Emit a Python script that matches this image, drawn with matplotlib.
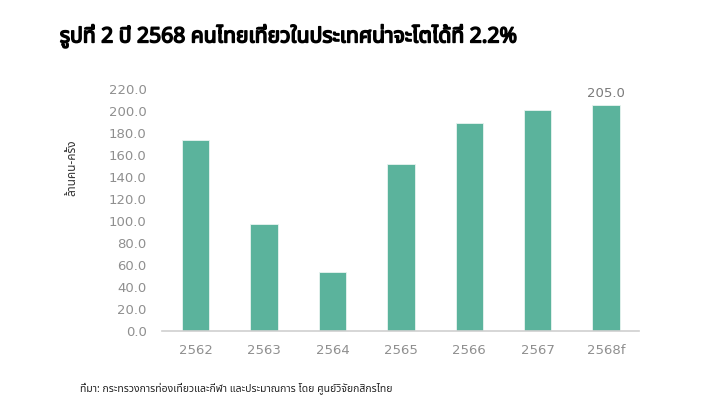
import matplotlib
matplotlib.use('Agg')
from matplotlib import pyplot as plt
from matplotlib import font_manager
from matplotlib import patheffects
from matplotlib.ft2font import FT2Font

years = ['2562', '2563', '2564', '2565', '2566', '2567', '2568f']
trips = [173.3, 97.1, 53.5, 151.5, 188.7, 200.6, 205.0]
yticks = [0, 20, 40, 60, 80, 100, 120, 140, 160, 180, 200, 220]

title = 'รูปที่ 2 ปี 2568 คนไทยเที่ยวในประเทศน่าจะโตได้ที่ 2.2%'
ylabel = 'ล้านคน-ครั้ง'
source = 'ที่มา: กระทรวงการท่องเที่ยวและกีฬา และประมาณการ โดย ศูนย์วิจัยกสิกรไทย'


# find some installed font that has Thai glyphs
def thai_family():
    names = []
    for f in font_manager.fontManager.ttflist:
        try:
            if 0x0E01 in FT2Font(f.fname).get_charmap():
                names.append(f.name)
        except Exception:
            pass
    for pref in ['Noto Sans Thai', 'Noto Sans Thai UI', 'Noto Sans', 'DejaVu Sans']:
        if pref in names:
            return pref
    return names[0] if names else 'DejaVu Sans'


thai = thai_family()
fams = [thai, 'DejaVu Sans']

fig = plt.figure(figsize=(7.2, 4.18), dpi=100)
ax = fig.add_axes([0.225, 0.208, 0.6625, 0.580])

bars = ax.bar(years, trips, width=0.4, color='#5BB39C', edgecolor='#e8f4f0', linewidth=0.6)
ax.set_xlim(-0.49, 6.48)
ax.set_ylim(0, 220)
ax.set_yticks(yticks)
ax.set_yticklabels([f'{v:.1f}' for v in yticks])

for s in ['top', 'right', 'left']:
    ax.spines[s].set_visible(False)
ax.spines['bottom'].set_color('#cfcfcf')
ax.spines['bottom'].set_linewidth(1.2)
ax.tick_params(axis='y', length=0, pad=11, labelsize=9.5, labelcolor='#8f8f8f')
ax.tick_params(axis='x', length=0, pad=9, labelsize=9.5, labelcolor='#8f8f8f')

# value label only on the forecast bar
ax.annotate(f'{trips[-1]:.1f}', (len(years) - 1, trips[-1]), xytext=(0, 4),
            textcoords='offset points', ha='center', va='bottom',
            fontsize=9.5, color='#7a7a7a')

fig.text(0.1, 0.6, ylabel, rotation=90, ha='center', va='center',
         fontsize=8.5, color='#333333', family=fams)
t = fig.text(0.083, 0.915, title, ha='left', va='center', fontsize=15.2,
             fontweight='bold', color='black', family=fams)
# the Thai face has no bold cut, so thicken the strokes
t.set_path_effects([patheffects.withStroke(linewidth=1.1, foreground='black')])
fig.text(0.111, 0.072, source, ha='left', va='center', fontsize=7.5,
         color='#222222', family=fams)

fig.savefig('out.png', dpi=100)
